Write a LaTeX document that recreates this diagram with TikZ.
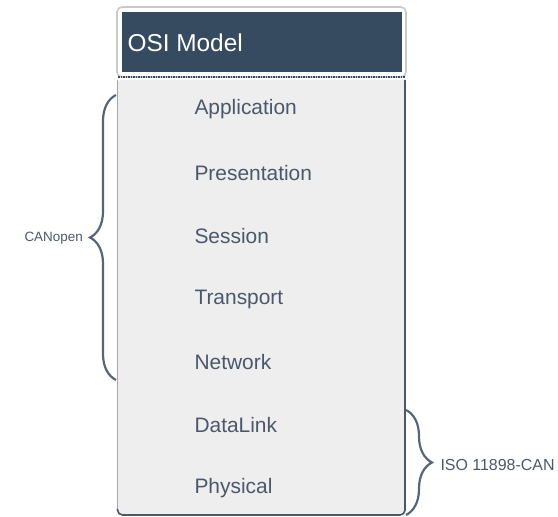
\documentclass[tikz,border=0pt]{standalone}
\usepackage{fontspec}
\setmainfont{Liberation Sans}
\usetikzlibrary{decorations.pathreplacing}
\definecolor{navy}{HTML}{364B60}
\definecolor{slate}{HTML}{4A586B}
\definecolor{bracec}{HTML}{56657A}
\definecolor{panel}{HTML}{EEEEEE}
\definecolor{rim}{HTML}{C9C9C9}
\tikzset{
  layer/.style={anchor=west, text=slate, font=\fontsize{21}{25}\selectfont},
  side/.style={text=slate},
  curly/.style={draw=bracec, line width=2.2pt, decorate},
}
\begin{document}
\begin{tikzpicture}[x=1bp, y=1bp]
\useasboundingbox (0,0) rectangle (558,517);
% layer panel
\fill[panel, rounded corners=4bp] (117,2) rectangle (406,437);
\draw[gray!70, line width=1.6bp] (117.5,437) -- (117.5,8);
\draw[slate, line width=1.6bp, rounded corners=5bp] (117.5,8) -- (117.5,2) -- (405,2) -- (405,437);
% title box
\draw[rim, line width=1.6bp, rounded corners=5bp] (117,440) rectangle (406,510);
\node[fill=navy, minimum width=280bp, minimum height=60bp, inner sep=0pt, anchor=south west] (title) at (122,445) {};
\draw[navy, dashed, dash pattern=on 1.5bp off 1bp, line width=1.4bp] (118,440) -- (405,440);
\node[anchor=west, text=white, font=\fontsize{24.5}{28}\selectfont] (tlabel) at (124,474) {OSI Model};
% layers
\node[layer] (app)  at (191,408) {Application};
\node[layer] (pres) at (191,344) {Presentation};
\node[layer] (ses)  at (191,281) {Session};
\node[layer] (tra)  at (191,218) {Transport};
\node[layer] (net)  at (191,155) {Network};
\node[layer] (dl)   at (191,92)  {DataLink};
\node[layer] (phy)  at (191,29)  {Physical};
% braces
\coordinate (lb) at (116,137);
\coordinate (lt) at (116,422);
\draw[curly, decoration={brace, amplitude=26bp}] (lb) -- (lt);
\node[side, anchor=west, font=\fontsize{13.5}{16}\selectfont] (canopen) at (21,279) {CANopen};
\coordinate (rt) at (406,107);
\coordinate (rb) at (406,2);
\draw[curly, decoration={brace, amplitude=26bp}] (rt) -- (rb);
\node[side, anchor=west, font=\fontsize{16}{19}\selectfont] (iso) at (437,52) {ISO 11898-CAN};
\end{tikzpicture}
\end{document}
